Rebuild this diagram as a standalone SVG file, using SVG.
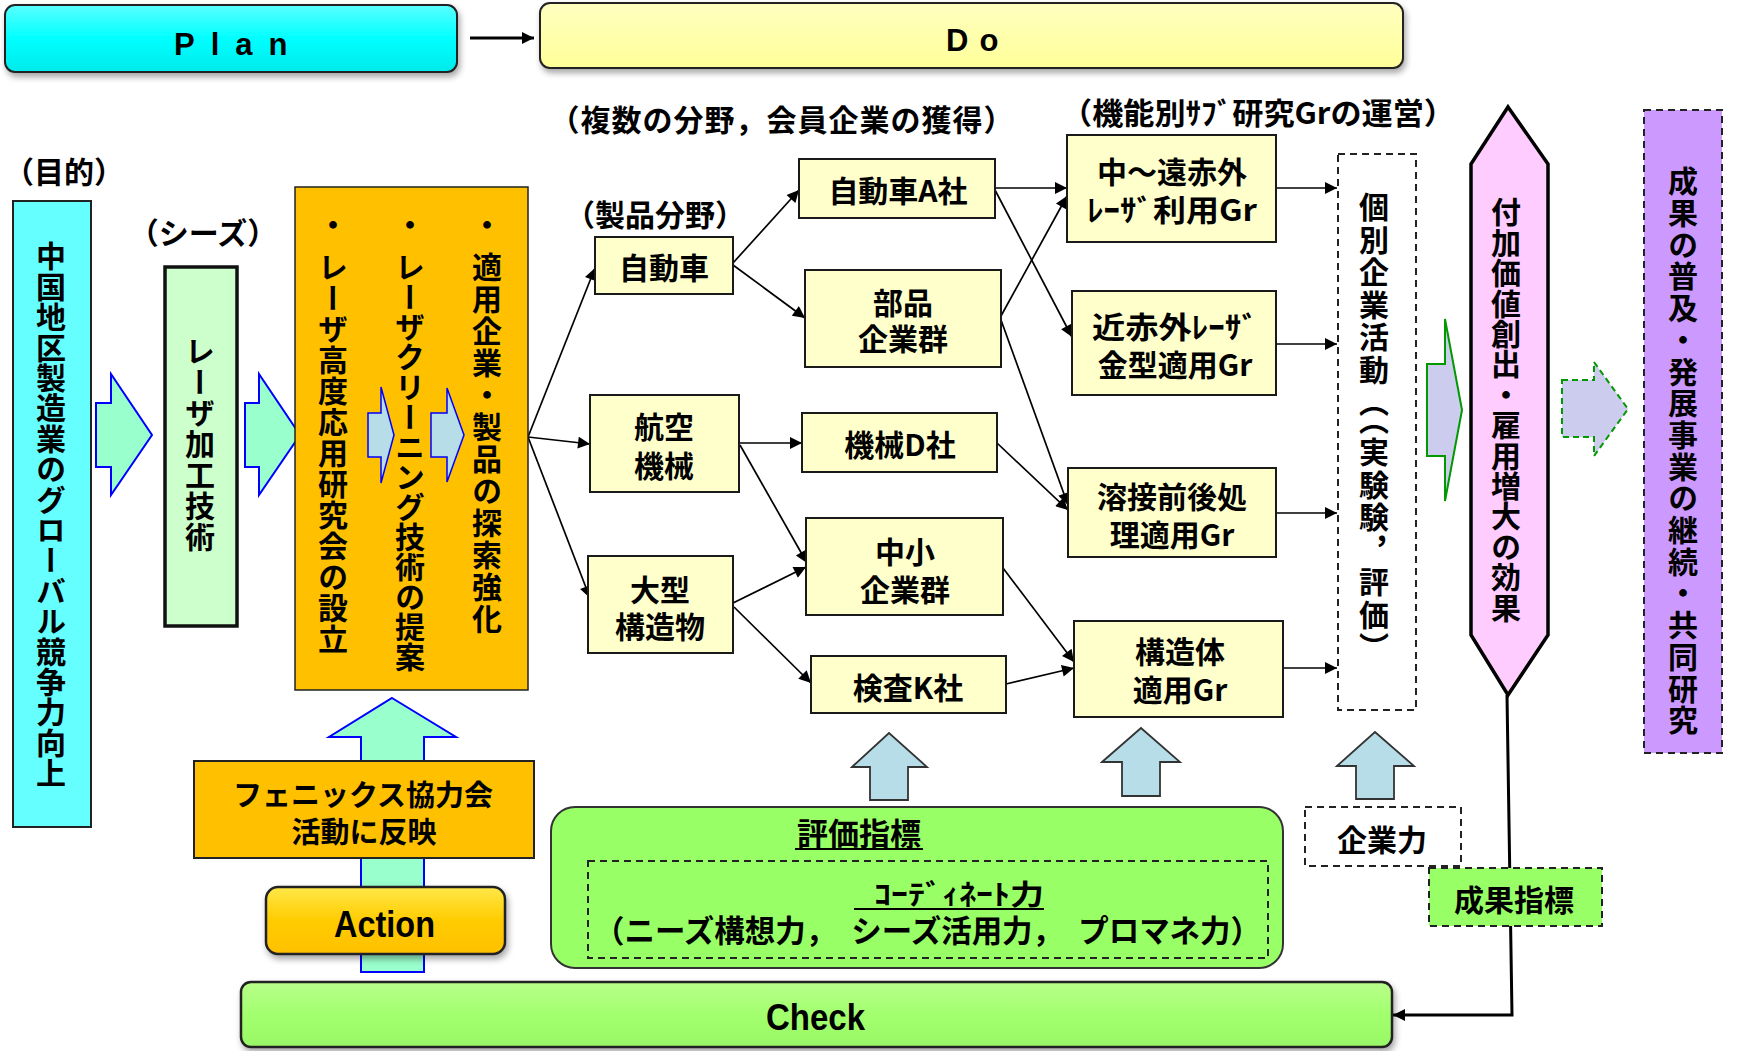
<svg xmlns="http://www.w3.org/2000/svg" width="1739" height="1051" viewBox="0 0 1739 1051">
<defs>
<style>
.j{font-family:"Noto Sans CJK JP","Noto Sans CJK SC",sans-serif;font-weight:bold;fill:#000}
.l{font-family:"Liberation Sans",Arial,sans-serif;font-weight:bold;fill:#000}
.m{text-anchor:middle}
.f30{font-size:30px}
.v{writing-mode:vertical-rl}
.yb{fill:#FFFFCC;stroke:#1a1a1a;stroke-width:2}
.cn{fill:none;stroke:#000;stroke-width:1.7;marker-end:url(#ah)}
.dsh{stroke:#222;stroke-width:2;stroke-dasharray:7 5}
.ga{fill:#99FFCC;stroke:#0000FF;stroke-width:2}
.ba{fill:#B7DDE8;stroke:#0000FF;stroke-width:1.5}
.ua{fill:#B7DDE8;stroke:#333;stroke-width:1.8}
.la{fill:#CCCCEE;stroke:#009900;stroke-width:2}
</style>
<marker id="ah" viewBox="0 0 10 10" refX="10" refY="5" markerWidth="15" markerHeight="12" markerUnits="userSpaceOnUse" orient="auto"><path d="M0,0 L10,5 L0,10 Z" fill="#000"/></marker>
<filter id="sh" x="-5%" y="-30%" width="110%" height="170%"><feDropShadow dx="2" dy="4" stdDeviation="3" flood-color="#000" flood-opacity="0.35"/></filter>
<linearGradient id="gPlan" x1="0" y1="0" x2="0" y2="1"><stop offset="0" stop-color="#5AFFFF"/><stop offset="0.5" stop-color="#00FFFF"/><stop offset="1" stop-color="#00EAEA"/></linearGradient>
<linearGradient id="gDo" x1="0" y1="0" x2="0" y2="1"><stop offset="0" stop-color="#FFFFC0"/><stop offset="1" stop-color="#FFFF99"/></linearGradient>
<linearGradient id="gAct" x1="0" y1="0" x2="0" y2="1"><stop offset="0" stop-color="#FFE84A"/><stop offset="0.5" stop-color="#FFCC00"/><stop offset="1" stop-color="#FFC000"/></linearGradient>
<linearGradient id="gChk" x1="0" y1="0" x2="0" y2="1"><stop offset="0" stop-color="#B8FF8A"/><stop offset="0.5" stop-color="#A2FF6E"/><stop offset="1" stop-color="#99F866"/></linearGradient>
</defs>
<rect width="1739" height="1051" fill="#fff"/>

<g id="connectors">
<line x1="470" y1="38" x2="534" y2="38" stroke="#000" stroke-width="3" marker-end="url(#ah)"/>
<line class="cn" x1="528" y1="437" x2="595" y2="268"/>
<line class="cn" x1="528" y1="437" x2="590" y2="444"/>
<line class="cn" x1="528" y1="437" x2="590" y2="598"/>
<line class="cn" x1="733" y1="263" x2="799" y2="190"/>
<line class="cn" x1="733" y1="265" x2="805" y2="318"/>
<line class="cn" x1="739" y1="443" x2="802" y2="443"/>
<line class="cn" x1="740" y1="445" x2="807" y2="563"/>
<line class="cn" x1="733" y1="603" x2="806" y2="567"/>
<line class="cn" x1="734" y1="607" x2="811" y2="683"/>
<line class="cn" x1="995" y1="188" x2="1067" y2="188"/>
<line class="cn" x1="995" y1="190" x2="1072" y2="337"/>
<line class="cn" x1="1001" y1="316" x2="1067" y2="196"/>
<line class="cn" x1="1001" y1="320" x2="1068" y2="505"/>
<line class="cn" x1="997" y1="443" x2="1068" y2="510"/>
<line class="cn" x1="1003" y1="568" x2="1074" y2="662"/>
<line class="cn" x1="1006" y1="684" x2="1074" y2="668"/>
<line class="cn" x1="1276" y1="188" x2="1337" y2="188"/>
<line class="cn" x1="1276" y1="344" x2="1337" y2="344"/>
<line class="cn" x1="1276" y1="513" x2="1337" y2="513"/>
<line class="cn" x1="1283" y1="668" x2="1337" y2="668"/>
<polyline points="1507,695 1512,1015 1393,1015" fill="none" stroke="#000" stroke-width="3" marker-end="url(#ah)"/>
</g>

<g id="plan"><rect x="5" y="5" width="452" height="67" rx="10" fill="url(#gPlan)" stroke="#222" stroke-width="2" filter="url(#sh)"/>
<text class="l" x="174" y="55" font-size="31" letter-spacing="16">Plan</text></g>
<g id="do"><rect x="540" y="3" width="863" height="65" rx="10" fill="url(#gDo)" stroke="#222" stroke-width="2" filter="url(#sh)"/>
<text class="l" x="946" y="51" font-size="31" letter-spacing="11">Do</text></g>

<g id="label-goal"><text class="j m f30" x="64" y="183">（目的）</text></g>
<g id="goal"><rect x="13" y="201" width="78" height="626" fill="#66FFFF" stroke="#222" stroke-width="2"/>
<text class="j f30 v" x="51" y="241" letter-spacing="0.4">中国地区製造業のグローバル競争力向上</text></g>

<g id="arrow-1"><path class="ga" d="M96,403 L111,403 L111,374 L152,435 L111,495 L111,467 L96,467 Z"/></g>

<g id="label-seeds"><text class="j m f30" x="203" y="244">（シーズ）</text></g>
<g id="seeds"><rect x="165" y="267" width="72" height="359" fill="#CCFFCC" stroke="#111" stroke-width="3.5"/>
<text class="j f30 v" x="200" y="336" letter-spacing="1">レーザ加工技術</text></g>

<g id="arrow-2"><path class="ga" d="M245,403 L259,403 L259,374 L300,435 L259,495 L259,467 L245,467 Z"/></g>

<g id="study"><rect x="295" y="187" width="233" height="503" fill="#FFC000" stroke="#222" stroke-width="1.5"/>
<text class="j m f30" x="333" y="236">・</text>
<text class="j m f30" x="410" y="236">・</text>
<text class="j m f30" x="487" y="236">・</text>
<text class="j f30 v" x="333" y="252" letter-spacing="1">レーザ高度応用研究会の設立</text>
<text class="j f30 v" x="410" y="252" letter-spacing="0">レーザクリーニング技術の提案</text>
<text class="j f30 v" x="487" y="252" letter-spacing="2">適用企業・製品の探索強化</text>
<path class="ba" d="M368,413 L381,413 L381,387 L394,435 L381,483 L381,457 L368,457 Z"/>
<path class="ba" d="M431,413 L447,413 L447,388 L464,435 L447,482 L447,457 L431,457 Z"/></g>

<g id="label-fields"><text class="j m f30" x="782" y="131" letter-spacing="1">（複数の分野，会員企業の獲得）</text></g>
<g id="label-product"><text class="j m f30" x="655" y="226">（製品分野）</text></g>
<g id="label-subgr"><text class="j f30" x="1061" y="124" textLength="394" lengthAdjust="spacingAndGlyphs">（機能別ｻﾌﾞ研究Grの運営）</text></g>

<g id="car"><rect class="yb" x="595" y="237" width="138" height="57"/><text class="j m f30" x="664" y="279">自動車</text></g>
<g id="aero"><rect class="yb" x="590" y="395" width="149" height="97"/><text class="j m f30" x="664" y="438">航空</text><text class="j m f30" x="664" y="477">機械</text></g>
<g id="large"><rect class="yb" x="588" y="556" width="145" height="97"/><text class="j m f30" x="660" y="601">大型</text><text class="j m f30" x="660" y="638">構造物</text></g>

<g id="car-a"><rect class="yb" x="799" y="159" width="196" height="59"/><text class="j m f30" x="898" y="202">自動車A社</text></g>
<g id="parts"><rect class="yb" x="805" y="270" width="196" height="97"/><text class="j m f30" x="903" y="314">部品</text><text class="j m f30" x="903" y="350">企業群</text></g>
<g id="mech-d"><rect class="yb" x="802" y="413" width="195" height="59"/><text class="j m f30" x="900" y="456">機械D社</text></g>
<g id="sme"><rect class="yb" x="806" y="518" width="197" height="97"/><text class="j m f30" x="905" y="563">中小</text><text class="j m f30" x="905" y="601">企業群</text></g>
<g id="insp-k"><rect class="yb" x="811" y="656" width="195" height="57"/><text class="j m f30" x="908" y="699">検査K社</text></g>

<g id="gr-mid"><rect class="yb" x="1067" y="135" width="209" height="107"/><text class="j m f30" x="1172" y="183">中～遠赤外</text><text class="j f30" x="1087" y="221" textLength="170" lengthAdjust="spacingAndGlyphs">ﾚｰｻﾞ利用Gr</text></g>
<g id="gr-near"><rect class="yb" x="1072" y="291" width="204" height="104"/><text class="j f30" x="1092" y="338" textLength="166" lengthAdjust="spacingAndGlyphs">近赤外ﾚｰｻﾞ</text><text class="j m f30" x="1175" y="376">金型適用Gr</text></g>
<g id="gr-weld"><rect class="yb" x="1068" y="468" width="208" height="89"/><text class="j m f30" x="1172" y="508">溶接前後処</text><text class="j m f30" x="1172" y="546">理適用Gr</text></g>
<g id="gr-struct"><rect class="yb" x="1074" y="621" width="209" height="96"/><text class="j m f30" x="1180" y="663">構造体</text><text class="j m f30" x="1180" y="701">適用Gr</text></g>

<g id="company"><rect class="dsh" x="1338" y="154" width="78" height="556" fill="none"/>
<text class="j f30 v" x="1374" y="192" letter-spacing="2.5">個別企業活動（（実験験，評価）</text></g>

<g id="arrow-3"><path class="la" d="M1427,364 L1445,364 L1445,319 L1462,410 L1445,501 L1445,456 L1427,456 Z"/></g>

<g id="value"><path d="M1508,107 L1548,164 L1548,635 L1508,695 L1471,635 L1471,164 Z" fill="#FFCCFF" stroke="#000" stroke-width="3.5"/>
<text class="j f30 v" x="1506" y="197" letter-spacing="0.4">付加価値創出・雇用増大の効果</text></g>

<g id="arrow-4"><path class="la" d="M1562,380 L1594,380 L1594,362 L1628,409 L1594,456 L1594,437 L1562,437 Z" stroke-dasharray="6 4"/></g>

<g id="spread"><rect class="dsh" x="1644" y="110" width="78" height="643" fill="#CC99FF"/>
<text class="j f30 v" x="1683" y="166" letter-spacing="1.7">成果の普及・発展事業の継続・共同研究</text></g>

<g id="up-arrows">
<path class="ua" d="M852,767 L889,733 L927,767 L908,767 L908,800 L870,800 L870,767 Z"/>
<path class="ua" d="M1102,762 L1141,728 L1180,762 L1160,762 L1160,796 L1122,796 L1122,762 Z"/>
<path class="ua" d="M1337,766 L1375,732 L1414,766 L1394,766 L1394,799 L1356,799 L1356,766 Z"/>
</g>

<g id="arrow-action"><path class="ga" d="M392,698 L456,737 L424,737 L424,972 L361,972 L361,737 L329,737 Z"/></g>

<g id="phoenix"><rect x="194" y="761" width="340" height="97" fill="#FFC000" stroke="#222" stroke-width="2"/>
<text class="j m" font-size="29" x="363" y="806">フェニックス協力会</text><text class="j m" font-size="29" x="364" y="843">活動に反映</text></g>

<g id="action"><rect x="266" y="887" width="239" height="67" rx="12" fill="url(#gAct)" stroke="#222" stroke-width="2.5" filter="url(#sh)"/>
<text class="l" x="334" y="937" font-size="36" textLength="101" lengthAdjust="spacingAndGlyphs">Action</text></g>

<g id="eval"><rect x="551" y="807" width="732" height="161" rx="24" fill="#99FF66" stroke="#333" stroke-width="2"/>
<text class="j m" font-size="31" x="859" y="845">評価指標</text>
<line x1="795" y1="849" x2="923" y2="849" stroke="#000" stroke-width="2"/>
<rect class="dsh" x="588" y="861" width="680" height="97" fill="none"/>
<text class="j" font-size="28" x="874" y="905" textLength="170" lengthAdjust="spacingAndGlyphs">ｺｰﾃﾞｨﾈｰﾄ力</text>
<line x1="854" y1="909" x2="1044" y2="909" stroke="#000" stroke-width="2"/>
<text class="j" font-size="31" x="594" y="942" textLength="667" lengthAdjust="spacingAndGlyphs">（ニーズ構想力，　シーズ活用力，　プロマネ力）</text></g>

<g id="power"><rect class="dsh" x="1305" y="807" width="156" height="59" fill="#fff"/><text class="j m f30" x="1382" y="851">企業力</text></g>

<g id="result"><rect class="dsh" x="1429" y="868" width="173" height="58" fill="#99FF66"/><text class="j m f30" x="1514" y="911">成果指標</text></g>

<g id="check"><rect x="241" y="982" width="1151" height="65" rx="10" fill="url(#gChk)" stroke="#222" stroke-width="2.5" filter="url(#sh)"/>
<text class="l" x="766" y="1030" font-size="37" textLength="99" lengthAdjust="spacingAndGlyphs">Check</text></g>
</svg>
